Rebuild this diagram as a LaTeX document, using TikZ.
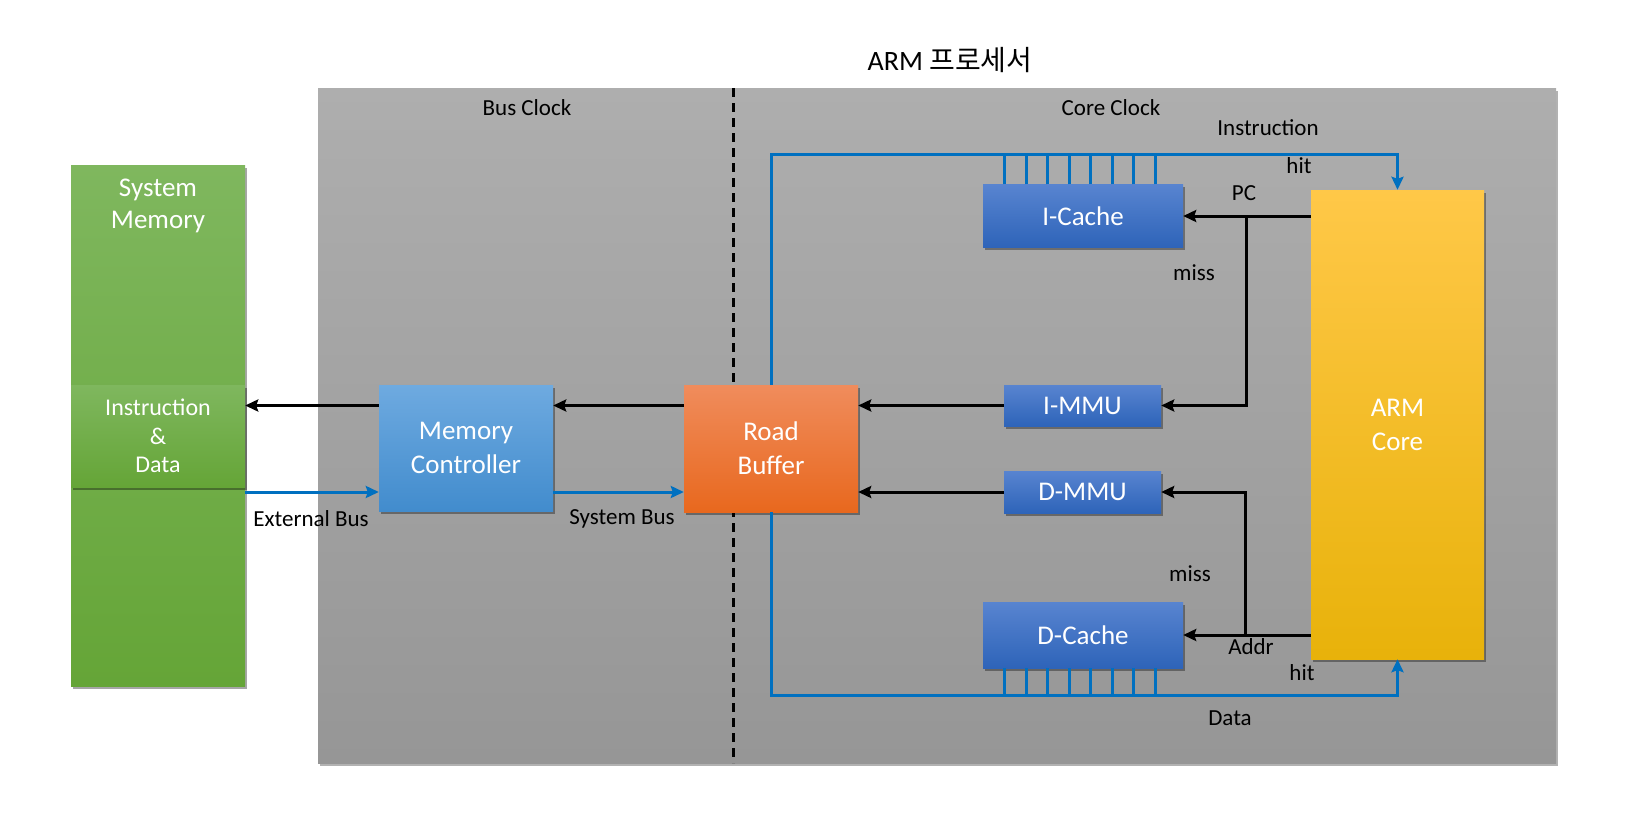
\documentclass[tikz,border=0pt]{standalone}
\usepackage{fontspec}
\setmainfont{Carlito}
\newfontfamily\krfont{Noto Sans CJK KR}
\usetikzlibrary{shadows,arrows.meta}
\definecolor{busblue}{RGB}{0,112,192}
\definecolor{panelTop}{RGB}{174,174,174}
\definecolor{panelBot}{RGB}{150,150,150}
\definecolor{memTop}{RGB}{127,183,94}
\definecolor{memBot}{RGB}{101,165,55}
\definecolor{mcTop}{RGB}{110,170,224}
\definecolor{mcBot}{RGB}{66,140,205}
\definecolor{rbTop}{RGB}{240,140,92}
\definecolor{rbBot}{RGB}{232,104,30}
\definecolor{cacheTop}{RGB}{88,132,208}
\definecolor{cacheBot}{RGB}{46,100,185}
\definecolor{coreTop}{RGB}{255,200,72}
\definecolor{coreBot}{RGB}{232,178,10}

\tikzset{
  blk/.style={inner sep=0pt, text=white, align=center, font=\fontsize{27}{34}\selectfont,
    drop shadow={shadow xshift=1.5pt, shadow yshift=-2.5pt, opacity=.35, fill=black}},
  cachebox/.style={blk, top color=cacheTop, bottom color=cacheBot},
  lbl/.style={font=\fontsize{23}{27}\selectfont},
  arr/.style={line width=3pt, -{Stealth[length=13pt, width=12pt, inset=2pt]}},
  bus/.style={line width=3pt, draw=busblue},
  busarr/.style={bus, -{Stealth[length=13pt, width=12pt, inset=2pt, fill=busblue]}},
}

\begin{document}
\begin{tikzpicture}[x=1pt, y=-1pt]
\useasboundingbox (0,0) rectangle (1637,819);

% processor panel
\fill[top color=panelTop, bottom color=panelBot,
  drop shadow={shadow xshift=2pt, shadow yshift=-3pt, opacity=.3, fill=black}]
  (318,88) rectangle (1556,763);
\draw[line width=3pt, dash pattern=on 9pt off 6pt] (733,88) -- (733,763);
\node[font=\fontsize{28}{32}\selectfont] at (950,60) {ARM {\krfont 프로세서}};
\node[lbl] at (527,108) {Bus Clock};
\node[lbl] at (1111,108) {Core Clock};

% system memory
\node[blk, top color=memTop, bottom color=memBot, minimum width=174pt, minimum height=521pt] (mem) at (158,425.5) {};
\node[text=white, align=center, font=\fontsize{27}{32}\selectfont] at (158,206) {System\\Memory};
\node[blk, top color=memTop, bottom color=memBot, minimum width=174pt, minimum height=102pt,
  font=\fontsize{24}{28.5}\selectfont] (memsub) at (158,436) {Instruction\\\&\\Data};

% blocks
\node[blk, top color=mcTop, bottom color=mcBot, minimum width=174pt, minimum height=126pt] (mc) at (466,448) {Memory\\Controller};
\node[blk, top color=rbTop, bottom color=rbBot, minimum width=174pt, minimum height=127pt] (rb) at (771,448.5) {Road\\Buffer};
\node[cachebox, minimum width=200pt, minimum height=63pt] (icache) at (1083,216) {I-Cache};
\node[cachebox, minimum width=157pt, minimum height=41pt] (immu) at (1082.5,405.5) {I-MMU};
\node[cachebox, minimum width=157pt, minimum height=42pt] (dmmu) at (1082.5,492) {D-MMU};
\node[cachebox, minimum width=200pt, minimum height=66pt] (dcache) at (1083,635) {D-Cache};
\node[blk, top color=coreTop, bottom color=coreBot, minimum width=173pt, minimum height=469pt] (core) at (1397.5,424.5) {ARM\\Core};

% blue buses
\coordinate (itop) at (0,154);
\coordinate (dbot) at (0,695);
\draw[busarr] (rb.north) |- (core.north |- itop) -- (core.north);
\draw[busarr] (rb.south) |- (core.south |- dbot) -- (core.south);
\foreach \i in {0,...,7} {
  \coordinate (t) at ([xshift=22+\i*21.5]icache.north west);
  \draw[bus] (t) -- (t |- itop);
  \coordinate (b) at ([xshift=22+\i*21.5]dcache.south west);
  \draw[bus] (b) -- (b |- dbot);
}
\draw[busarr] (mem.east |- dmmu) -- (mc.west |- dmmu);
\draw[busarr] (mc.east |- dmmu) -- (rb.west |- dmmu);

% address paths
\coordinate (pcj) at (1246,216);
\coordinate (aj) at (1245,635);
\draw[arr] (core.west |- icache) -- (icache.east);
\draw[arr] (pcj) |- (immu.east);
\draw[arr] (core.west |- dcache) -- (dcache.east);
\draw[arr] (aj) |- (dmmu.east);
\draw[arr] (immu.west) -- (rb.east |- immu);
\draw[arr] (dmmu.west) -- (rb.east |- dmmu);
\draw[arr] (rb.west |- immu) -- (mc.east |- immu);
\draw[arr] (mc.west |- immu) -- (memsub.east |- immu);

% labels
\node[lbl] at (1268,128) {Instruction};
\node[lbl] at (1299,166) {hit};
\node[lbl] at (1244,193) {PC};
\node[lbl] at (1194,273) {miss};
\node[lbl] at (1190,574) {miss};
\node[lbl] at (1251,647) {Addr};
\node[lbl] at (1302,673) {hit};
\node[lbl] at (1230,718) {Data};
\node[lbl] at (311,519) {External Bus};
\node[lbl] at (622,519) {System Bus};
\end{tikzpicture}
\end{document}
